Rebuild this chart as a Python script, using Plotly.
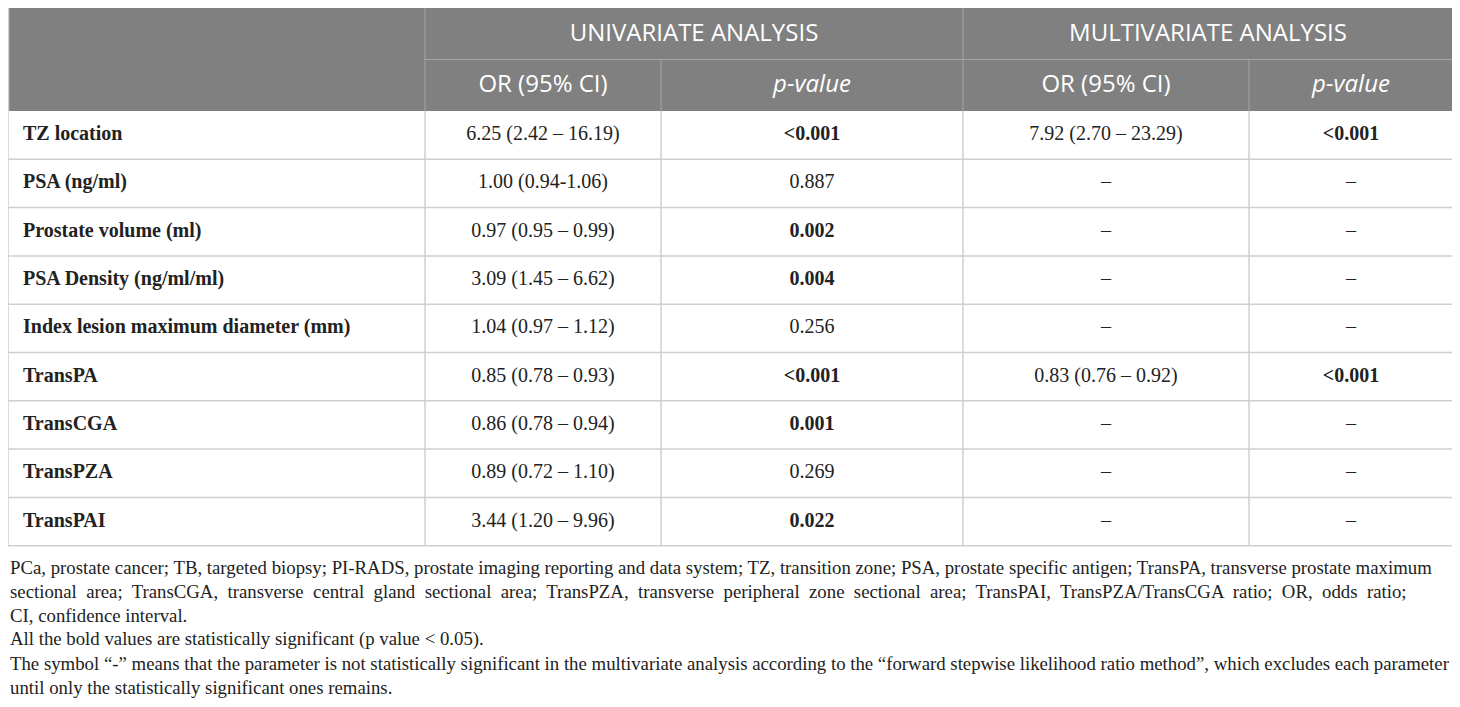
import plotly.graph_objects as go

W, H = 1460, 707
PAGE_OFF = 8   # the html page puts the figure 8px in from the top-left corner

# ---- data ----
group_headers = ["UNIVARIATE ANALYSIS", "MULTIVARIATE ANALYSIS"]
sub_headers = ["OR (95% CI)", "<i>p-value</i>", "OR (95% CI)", "<i>p-value</i>"]

parameters = [
    "TZ location",
    "PSA (ng/ml)",
    "Prostate volume (ml)",
    "PSA Density (ng/ml/ml)",
    "Index lesion maximum diameter (mm)",
    "TransPA",
    "TransCGA",
    "TransPZA",
    "TransPAI",
]
uni_or = [
    "6.25 (2.42 – 16.19)",
    "1.00 (0.94-1.06)",
    "0.97 (0.95 – 0.99)",
    "3.09 (1.45 – 6.62)",
    "1.04 (0.97 – 1.12)",
    "0.85 (0.78 – 0.93)",
    "0.86 (0.78 – 0.94)",
    "0.89 (0.72 – 1.10)",
    "3.44 (1.20 – 9.96)",
]
uni_p = ["<0.001", "0.887", "0.002", "0.004", "0.256", "<0.001", "0.001", "0.269", "0.022"]
multi_or = ["7.92 (2.70 – 23.29)", "–", "–", "–", "–", "0.83 (0.76 – 0.92)", "–", "–", "–"]
multi_p = ["<0.001", "–", "–", "–", "–", "<0.001", "–", "–", "–"]

footnote_lines = [
    "PCa, prostate cancer; TB, targeted biopsy; PI-RADS, prostate imaging reporting and data system; TZ, transition zone; PSA, prostate specific antigen; TransPA, transverse prostate maximum",
    "sectional  area;  TransCGA,  transverse  central  gland  sectional  area;  TransPZA,  transverse  peripheral  zone  sectional  area;  TransPAI,  TransPZA/TransCGA  ratio;  OR,  odds  ratio;",
    "CI, confidence interval.",
    "All the bold values are statistically significant (p value &lt; 0.05).",
    "The symbol “-” means that the parameter is not statistically significant in the multivariate analysis according to the “forward stepwise likelihood ratio method”, which excludes each parameter",
    "until only the statistically significant ones remains.",
]


def esc(s):
    return s.replace("<", "&lt;")


def fmt_p(p):
    # p-values below 0.05 are bold
    sig = p.startswith("<") or (p != "–" and float(p) < 0.05)
    return "<b>" + esc(p) + "</b>" if sig else esc(p)


# ---- layout constants (page pixels) ----
HEAD_FILL = "#808080"
HEAD_LINE = "#a3a3a3"
BODY_LINE = "#cfcfcf"
TEXT = "#222222"
SANS = "Open Sans"
SERIF = "Liberation Serif"

col_px = [417, 236, 302, 286, 205]
left, top = 8, 8
head_h = 51.5
row_h = 48.3
n_rows = len(parameters)

edges = [left]
for w in col_px:
    edges.append(edges[-1] + w)
right = edges[-1] - 1
edges[-1] = right
body_top = top + 2 * head_h
row_edges = [body_top + i * row_h for i in range(n_rows + 1)]
bottom = row_edges[-1]
centers = [(edges[i] + edges[i + 1]) / 2 for i in range(len(col_px))]
row_mid = [body_top + (i + 0.5) * row_h for i in range(n_rows)]

fig = go.Figure()


def line(x0, y0, x1, y1, color, width=1.5):
    fig.add_shape(type="line", xref="x", yref="y", x0=x0, y0=y0, x1=x1, y1=y1,
                  line=dict(color=color, width=width), layer="below")


# header background
fig.add_shape(type="rect", xref="x", yref="y", x0=left, y0=top, x1=right, y1=body_top,
              fillcolor=HEAD_FILL, line_width=0, layer="below")
# header grid
line(edges[1], top + head_h, right, top + head_h, HEAD_LINE, 1)
for i in (1, 3):
    line(edges[i], top, edges[i], body_top, HEAD_LINE, 1)
for i in (2, 4):
    line(edges[i], top + head_h, edges[i], body_top, HEAD_LINE, 1)
# body grid
for y in row_edges[1:]:
    line(left, y, right, y, BODY_LINE)
for x in edges:
    line(x, body_top, x, bottom, BODY_LINE)
line(left + 0.5, top, left + 0.5, body_top, BODY_LINE)
line(right, top, right, body_top, BODY_LINE)

# header texts
fig.add_trace(go.Scatter(
    x=[(edges[1] + edges[3]) / 2, (edges[3] + edges[5]) / 2],
    y=[top + head_h / 2 + 1] * 2,
    text=group_headers, mode="text", textposition="middle center",
    textfont=dict(family=SANS, size=24, color="white"), hoverinfo="skip",
))
fig.add_trace(go.Scatter(
    x=centers[1:], y=[top + 1.5 * head_h + 1] * 4,
    text=sub_headers, mode="text", textposition="middle center",
    textfont=dict(family=SANS, size=24, color="white"), hoverinfo="skip",
))

# body texts
fig.add_trace(go.Scatter(
    x=[left + 15] * n_rows, y=row_mid,
    text=["<b>" + p + "</b>" for p in parameters],
    mode="text", textposition="middle right",
    textfont=dict(family=SERIF, size=20, color=TEXT), hoverinfo="skip",
))
for ci, col in enumerate([uni_or, [fmt_p(p) for p in uni_p], multi_or, [fmt_p(p) for p in multi_p]]):
    fig.add_trace(go.Scatter(
        x=[centers[ci + 1]] * n_rows, y=row_mid, text=col,
        mode="text", textposition="middle center",
        textfont=dict(family=SERIF, size=20, color=TEXT), hoverinfo="skip",
    ))

# footnotes
foot_y0 = 567
foot_step = 24
for i, t in enumerate(footnote_lines):
    fig.add_annotation(
        text=t, xref="paper", yref="y",
        x=0, y=foot_y0 + i * foot_step,
        xanchor="left", yanchor="middle", showarrow=False,
        font=dict(family=SERIF, size=18.8, color=TEXT),
    )

fig.update_layout(
    width=W, height=H,
    margin=dict(l=0, r=0, t=0, b=0),
    paper_bgcolor="white", plot_bgcolor="white",
    showlegend=False,
    xaxis=dict(range=[PAGE_OFF, PAGE_OFF + W], visible=False, fixedrange=True),
    yaxis=dict(range=[PAGE_OFF + H, PAGE_OFF], visible=False, fixedrange=True),
)

fig.write_html("out.html")
